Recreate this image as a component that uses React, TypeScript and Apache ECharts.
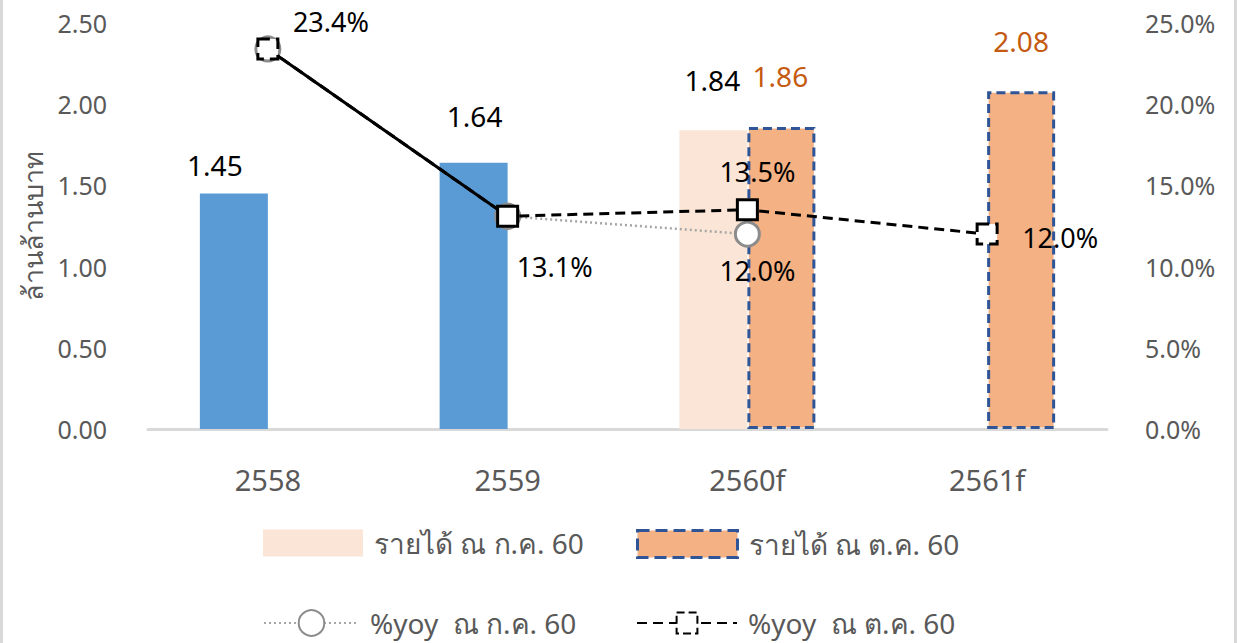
import React, { useEffect, useRef } from "react";
import * as echarts from "echarts";

const categories = ["2558", "2559", "2560f", "2561f"];
const revenueJul = [1.45, 1.64, 1.84, null];
const revenueOct = [null, null, 1.86, 2.08];
const yoyJul = [23.4, 13.1, 12.0, null];
const yoyOct = [23.4, 13.1, 13.5, 12.0];
const yoySolidPart = [23.4, 13.1, null, null];
const leftTicks = { min: 0, max: 2.5, interval: 0.5 };
const rightTicks = { min: 0, max: 25, interval: 5 };

const NAME_JUL = "รายได้ ณ ก.ค. 60";
const NAME_OCT = "รายได้ ณ ต.ค. 60";
const NAME_YOY_JUL = "%yoy  ณ ก.ค. 60";
const NAME_YOY_OCT = "%yoy  ณ ต.ค. 60";

const FONT = "'Noto Sans', 'Open Sans', sans-serif";
const GRAY_TEXT = "#595959";

export default function App() {
  const ref = useRef<HTMLDivElement>(null);
  useEffect(() => {
    if (!ref.current) return;
    const chart = echarts.init(ref.current, undefined, { renderer: "svg" });

    const julBarLabels = [
      { distance: 15, offset: [-19, 0] },
      { distance: 33, offset: [1, 0] },
      { distance: 36, offset: [-1, 0] },
      null,
    ];
    const julBarColors = ["#5b9bd5", "#5b9bd5", "#fbe5d6", "#fbe5d6"];
    const octBarLabels = [null, null, { distance: 37, offset: [-1, 0] }, { distance: 36, offset: [0, 0] }];

    const yoyJulLabels: any[] = [null, null, { show: true, offset: [10, 36] }, null];
    const yoyOctLabels: any[] = [
      { show: true, offset: [63, -27] },
      { show: true, offset: [47, 50] },
      { show: true, offset: [10, -38] },
      { show: true, offset: [73, 3] },
    ];
    const yoyOctBorder = ["dashed", "solid", "solid", "dashed"];

    const legendText = { color: GRAY_TEXT, fontSize: 28, fontFamily: FONT, padding: [0, 0, 0, 6] };

    chart.setOption({
      animation: false,
      textStyle: { fontFamily: FONT },
      graphic: [
        { type: "rect", shape: { x: 0, y: 0, width: 3, height: 643 }, style: { fill: "#d9d9d9" } },
        { type: "rect", shape: { x: 1234, y: 0, width: 3, height: 643 }, style: { fill: "#d9d9d9" } },
      ],
      grid: { left: 148, right: 130, top: 23, bottom: 214 },
      legend: [
        {
          data: [NAME_JUL], left: 258, top: 524, itemWidth: 100, itemHeight: 27, icon: "rect",
          textStyle: legendText, selectedMode: false,
        },
        {
          data: [NAME_OCT], left: 631, top: 524, itemWidth: 100, itemHeight: 27, icon: "rect",
          itemStyle: { borderColor: "#2f5597", borderWidth: 3, borderType: "dashed" },
          textStyle: legendText, selectedMode: false,
        },
        {
          data: [NAME_YOY_JUL], left: 258, top: 604, itemWidth: 95, itemHeight: 32,
          textStyle: legendText, selectedMode: false,
        },
        {
          data: [NAME_YOY_OCT], left: 631, top: 604, itemWidth: 100, itemHeight: 26,
          itemStyle: { borderType: "dashed" },
          textStyle: legendText, selectedMode: false,
        },
      ],
      xAxis: {
        type: "category",
        data: categories,
        axisLine: { lineStyle: { color: "#d9d9d9", width: 3 } },
        axisTick: { show: false },
        axisLabel: { color: GRAY_TEXT, fontSize: 29, margin: 36, fontFamily: FONT },
      },
      yAxis: [
        {
          type: "value",
          ...leftTicks,
          splitLine: { show: false },
          axisLine: { show: false },
          axisTick: { show: false },
          axisLabel: {
            color: GRAY_TEXT, fontSize: 25, margin: 41, fontFamily: FONT,
            formatter: (v: number) => v.toFixed(2),
          },
          name: "ล้านล้านบาท",
          nameLocation: "middle",
          nameRotate: 90,
          nameGap: 96,
          nameTextStyle: { color: GRAY_TEXT, fontSize: 27, fontFamily: FONT },
        },
        {
          type: "value",
          ...rightTicks,
          splitLine: { show: false },
          axisLine: { show: false },
          axisTick: { show: false },
          axisLabel: {
            color: GRAY_TEXT, fontSize: 25, margin: 38, fontFamily: FONT,
            formatter: (v: number) => v.toFixed(1) + "%",
          },
        },
      ],
      series: [
        {
          name: NAME_JUL,
          type: "bar",
          barWidth: 68,
          barGap: "0%",
          itemStyle: { color: "#fbe5d6" },
          label: { show: true, position: "top", color: "#000", fontSize: 28, fontFamily: FONT, formatter: (p: any) => p.value.toFixed(2) },
          data: revenueJul.map((v, i) =>
            v == null ? null : { value: v, itemStyle: { color: julBarColors[i] }, label: julBarLabels[i] || {} }
          ),
          z: 1,
        },
        {
          name: NAME_OCT,
          type: "bar",
          barWidth: 68,
          barGap: "0%",
          itemStyle: { color: "#f4b183", borderColor: "#2f5597", borderWidth: 3, borderType: [9, 5] },
          label: { show: true, position: "top", color: "#c55a11", fontSize: 28, fontFamily: FONT, formatter: (p: any) => p.value.toFixed(2) },
          data: revenueOct.map((v, i) => (v == null ? null : { value: v, label: octBarLabels[i] || {} })),
          z: 1,
        },
        {
          name: NAME_YOY_JUL,
          type: "line",
          yAxisIndex: 1,
          symbol: "circle",
          symbolSize: 24,
          showAllSymbol: true,
          lineStyle: { color: "#a6a6a6", width: 2.5, type: [2, 3] },
          itemStyle: { color: "#ffffff", borderColor: "#8c8c8c", borderWidth: 3 },
          label: { show: false, position: "inside", color: "#000", fontSize: 27, fontFamily: FONT, formatter: (p: any) => p.value.toFixed(1) + "%" },
          data: yoyJul.map((v, i) => (v == null ? null : { value: v, label: yoyJulLabels[i] || { show: false } })),
          z: 3,
        },
        {
          name: "solid",
          type: "line",
          yAxisIndex: 1,
          symbol: "none",
          lineStyle: { color: "#000", width: 3, type: "solid" },
          data: yoySolidPart,
          z: 4,
        },
        {
          name: NAME_YOY_OCT,
          type: "line",
          yAxisIndex: 1,
          symbol: "rect",
          symbolSize: 20,
          showAllSymbol: true,
          lineStyle: { color: "#000", width: 3, type: [10, 6] },
          itemStyle: { color: "#ffffff", borderColor: "#000", borderWidth: 3, borderType: "dashed" },
          label: { show: true, position: "inside", color: "#000", fontSize: 27, fontFamily: FONT, formatter: (p: any) => p.value.toFixed(1) + "%" },
          data: yoyOct.map((v, i) => ({
            value: v,
            label: yoyOctLabels[i],
            itemStyle: { borderType: yoyOctBorder[i] },
          })),
          z: 5,
        },
      ],
    });
    return () => chart.dispose();
  }, []);
  return <div ref={ref} style={{ position: "absolute", left: 0, top: 0, width: 1237, height: 643 }} />;
}
